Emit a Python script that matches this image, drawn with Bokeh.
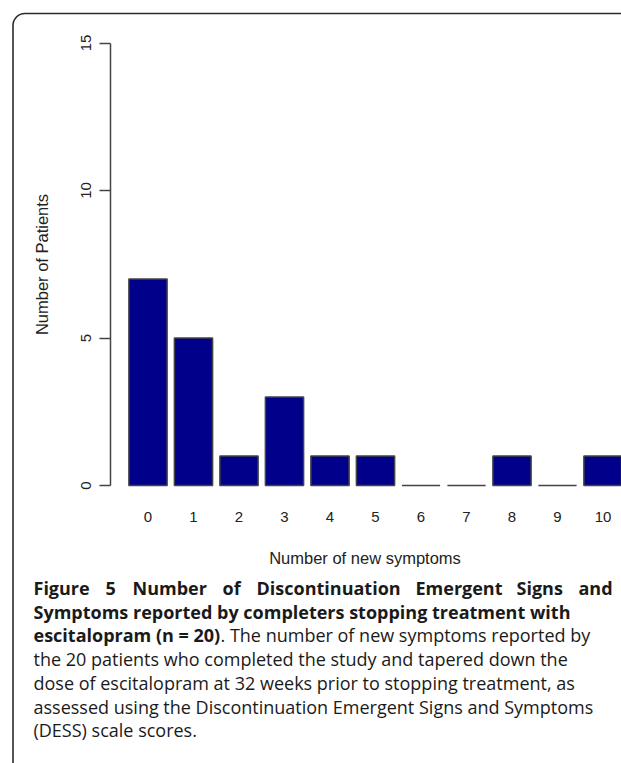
from bokeh.plotting import figure
from bokeh.models import Range1d, FixedTicker, Label, BoxAnnotation, ColumnDataSource
from bokeh.embed import file_html
from bokeh.resources import INLINE

# ---- data ----
categories = ["0", "1", "2", "3", "4", "5", "6", "7", "8", "9", "10"]
patients = [7, 5, 1, 3, 1, 1, 0, 0, 1, 0, 1]
y_ticks = [0, 5, 10, 15]

caption_bold_1 = ["Figure", "5", "Number", "of", "Discontinuation", "Emergent", "Signs", "and"]
caption_bold_2 = "Symptoms reported by completers stopping treatment with"
caption_bold_3 = "escitalopram (n = 20)"
caption_reg_3 = ". The number of new symptoms reported by"
caption_reg_rest = [
    "the 20 patients who completed the study and tapered down the",
    "dose of escitalopram at 32 weeks prior to stopping treatment, as",
    "assessed using the Discontinuation Emergent Signs and Symptoms",
    "(DESS) scale scores.",
]

# ---- geometry (canvas pixels) ----
W, H = 621, 763
PX_X, PX_Y = 45.5, 29.5      # pixels per data unit
BAR0_PX, ZERO_PY = 147.5, 485.0

def px2x(px):
    return (px - BAR0_PX) / PX_X

def px2y(py):
    return (ZERO_PY - py) / PX_Y

p = figure(width=W, height=H, output_backend="svg", toolbar_location=None,
           x_range=Range1d(px2x(0), px2x(W)), y_range=Range1d(px2y(H), px2y(0)),
           min_border=0, min_border_left=0, min_border_right=0,
           min_border_top=0, min_border_bottom=0)
p.outline_line_color = None
p.grid.visible = False
p.background_fill_color = "white"
p.border_fill_color = "white"

src = ColumnDataSource(dict(x=list(range(len(categories))), top=patients, cat=categories))
p.vbar(x="x", top="top", bottom=0, width=0.84, source=src,
       fill_color="#00008B", line_color="#444444", line_width=1.5)

# y axis (drawn at R's plot-region edge)
ya = p.yaxis[0]
ya.fixed_location = px2x(109.5)
ya.ticker = FixedTicker(ticks=y_ticks)
ya.bounds = (0, 15)
ya.axis_line_color = "#444444"
ya.axis_line_width = 1.5
ya.major_tick_line_color = "#444444"
ya.major_tick_line_width = 1.5
ya.major_tick_out = 11
ya.major_tick_in = 0
ya.minor_tick_line_color = None
ya.major_label_orientation = "vertical"
ya.major_label_standoff = 8
ya.major_label_text_font = "Liberation Sans"
ya.major_label_text_font_size = "15px"
ya.major_label_text_color = "#222222"
ya.axis_label = "Number of Patients"
ya.axis_label_text_font = "Liberation Sans"
ya.axis_label_text_font_style = "normal"
ya.axis_label_text_font_size = "16.5px"
ya.axis_label_text_color = "#222222"
ya.axis_label_standoff = 28

# x axis (labels only)
xa = p.xaxis[0]
xa.fixed_location = px2y(502.7)
xa.bounds = (px2x(108), px2x(640))
xa.ticker = FixedTicker(ticks=list(range(len(categories))))
xa.major_label_overrides = {i: c for i, c in enumerate(categories)}
xa.axis_line_color = None
xa.major_tick_line_color = None
xa.minor_tick_line_color = None
xa.major_label_standoff = 3
xa.major_label_text_font = "Liberation Sans"
xa.major_label_text_font_size = "15px"
xa.major_label_text_color = "#222222"
xa.axis_label = "Number of new symptoms"
xa.axis_label_text_font = "Liberation Sans"
xa.axis_label_text_font_style = "normal"
xa.axis_label_text_font_size = "16.5px"
xa.axis_label_text_color = "#222222"
xa.axis_label_standoff = 23

# rounded frame around figure and caption
p.add_layout(BoxAnnotation(left=px2x(12.5), top=px2y(13), right=px2x(W + 40), bottom=px2y(H + 40),
                           fill_alpha=0, line_color="#2a2a2a", line_alpha=1.0, line_width=1.6,
                           border_radius=12, level="overlay"))

# caption
FONT = "Open Sans"
FS = "18px"
CAP_COLOR = "#1a1a1a"
line_y = [587.5, 611.2, 634.9, 658.6, 682.3, 706.0, 729.7]
word_x = [33, 105, 132, 222, 256, 415, 516, 578]

def cap(x, y, text, bold):
    p.add_layout(Label(x=px2x(x), y=px2y(y), text=text, text_font=FONT,
                       text_font_style="bold" if bold else "normal", text_font_size=FS,
                       text_color=CAP_COLOR, text_baseline="middle", text_align="left"))

for wx, wd in zip(word_x, caption_bold_1):
    cap(wx, line_y[0], wd, True)
cap(33, line_y[1], caption_bold_2, True)
cap(33, line_y[2], caption_bold_3, True)
cap(220, line_y[2], caption_reg_3, False)
for ly, txt in zip(line_y[3:], caption_reg_rest):
    cap(33, ly, txt, False)

open("out.html", "w").write(file_html(p, INLINE))
